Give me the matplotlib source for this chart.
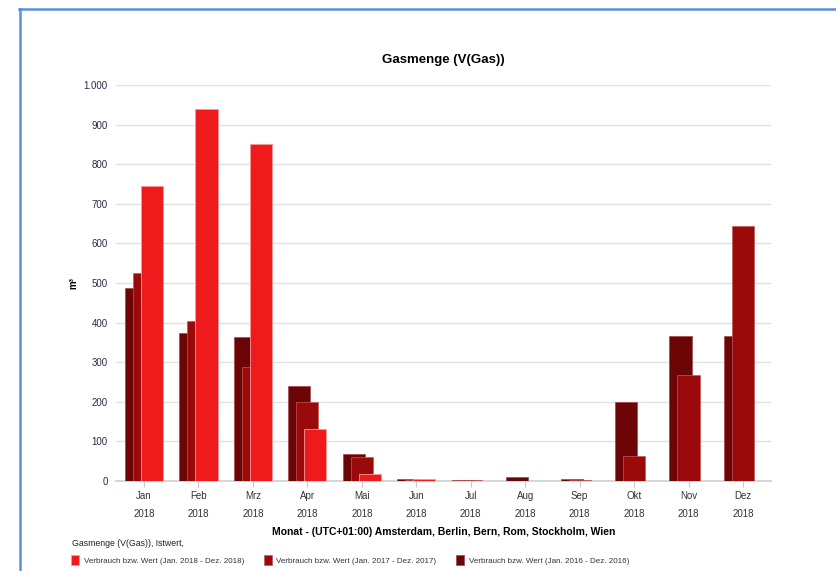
import matplotlib
matplotlib.use("Agg")
import matplotlib.pyplot as plt
import numpy as np
from matplotlib.lines import Line2D

plt.rcParams['font.family'] = ['Liberation Sans', 'DejaVu Sans']

months = ['Jan', 'Feb', 'Mrz', 'Apr', 'Mai', 'Jun', 'Jul', 'Aug', 'Sep', 'Okt', 'Nov', 'Dez']
year_label = '2018'
v2016 = [487, 375, 364, 241, 67, 4, 3, 10, 4, 199, 367, 365]
v2017 = [524, 403, 289, 199, 61, 3, 2, 0, 3, 63, 268, 644]
v2018 = [746, 939, 852, 131, 18, 4, 0, 0, 0, 0, 0, 0]
series_labels = ['Verbrauch bzw. Wert (Jan. 2018 - Dez. 2018)',
                 'Verbrauch bzw. Wert (Jan. 2017 - Dez. 2017)',
                 'Verbrauch bzw. Wert (Jan. 2016 - Dez. 2016)']
yticks = [0, 100, 200, 300, 400, 500, 600, 700, 800, 900, 1000]
ytick_labels = ['0', '100', '200', '300', '400', '500', '600', '700', '800', '900', '1.000']

c2018 = '#EF1A1C'
c2017 = '#9A0A0B'
c2016 = '#6B0506'

fig = plt.figure(figsize=(8.36, 5.71), dpi=100)
fig.patch.set_facecolor('white')

W, H = 836, 571
ax = fig.add_axes([116 / W, 1 - 481 / H, (771 - 116) / W, (481 - 85) / H])
ax.set_facecolor('white')

x = np.arange(len(months))
bw = 0.405
off = 0.147
b16 = ax.bar(x - off, v2016, width=bw, color=c2016, edgecolor='#a04848', linewidth=0.5, zorder=3)
b17 = ax.bar(x, v2017, width=bw, color=c2017, edgecolor='#c25a5a', linewidth=0.5, zorder=4)
b18 = ax.bar(x + off, v2018, width=bw, color=c2018, edgecolor='#f79a9a', linewidth=0.6, zorder=5)

ax.set_xlim(-0.515, 11.515)
ax.set_ylim(0, 1000)
ax.set_yticks(yticks)
ax.set_yticklabels(ytick_labels, fontsize=7, color='#2b2b4a')
ax.set_xticks(x)
ax.set_xticklabels([m + '\n' + year_label for m in months], fontsize=7, color='#333333', linespacing=2.0)
ax.tick_params(axis='y', length=0, pad=6)
ax.tick_params(axis='x', length=4, color='#c8c8c8', pad=3)
ax.yaxis.grid(True, color='#e2e2e2', linewidth=1.0, zorder=0)
ax.set_axisbelow(True)
for s in ['top', 'right', 'left']:
    ax.spines[s].set_visible(False)
ax.spines['bottom'].set_color('#cfcfcf')
ax.spines['bottom'].set_linewidth(1.2)

ax.set_ylabel('m³', fontsize=7, fontweight='bold')
ax.yaxis.set_label_coords(-0.058, 0.5)
ax.set_xlabel('Monat - (UTC+01:00) Amsterdam, Berlin, Bern, Rom, Stockholm, Wien',
              fontsize=7.5, fontweight='bold', labelpad=6)
fig.text(443 / W, 1 - 60 / H, 'Gasmenge (V(Gas))', fontsize=9.5, fontweight='bold',
         ha='center', va='center')

fig.text(72 / W, 1 - 543 / H, 'Gasmenge (V(Gas)), Istwert,', fontsize=6.3,
         ha='left', va='center', color='#222222')

leg = fig.legend([b18, b17, b16], series_labels, loc='center left',
                 bbox_to_anchor=(71 / W, 1 - 560 / H), ncol=3, frameon=False,
                 fontsize=5.8, handlelength=1.0, handleheight=1.5, handletextpad=0.6,
                 columnspacing=2.4, borderaxespad=0, borderpad=0)
for t in leg.get_texts():
    t.set_color('#333333')

# screenshot frame
fig.add_artist(Line2D([19.5 / W, 19.5 / W], [0, 1 - 9 / H], transform=fig.transFigure,
                      color='#5b8fd8', linewidth=1.8))
fig.add_artist(Line2D([19 / W, 1], [1 - 9 / H, 1 - 9 / H], transform=fig.transFigure,
                      color='#5b8fd8', linewidth=1.8))

fig.savefig('out.png', dpi=100)
